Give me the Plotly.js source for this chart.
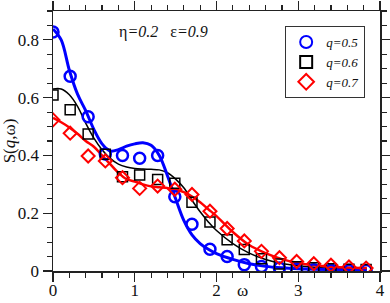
<!DOCTYPE html>
<html>
<head>
<meta charset="utf-8">
<script src="https://cdn.plot.ly/plotly-3.0.1.min.js"></script>
<style>html,body{margin:0;padding:0;background:#fff;}#chart{width:390px;height:303px;}</style>
</head>
<body>
<div id="chart"></div>
<script>
// Data points (simulation)
const omega = [0, 0.21, 0.43, 0.64, 0.85, 1.06, 1.28, 1.49, 1.70, 1.92, 2.13, 2.34, 2.55, 2.77, 2.98, 3.19, 3.40, 3.62, 3.83];
const sQ05 = [0.827, 0.674, 0.534, 0.405, 0.400, 0.390, 0.400, 0.257, 0.162, 0.075, 0.050, 0.022, 0.016, 0.010, 0.006, 0.004, 0.003, 0.002, 0.002];
const sQ06 = [0.609, 0.558, 0.474, 0.404, 0.326, 0.332, 0.317, 0.304, 0.238, 0.170, 0.108, 0.074, 0.042, 0.024, 0.015, 0.011, 0.008, 0.006, 0.005];
const sQ07 = [0.523, 0.477, 0.398, 0.381, 0.323, 0.286, 0.294, 0.283, 0.265, 0.207, 0.147, 0.104, 0.068, 0.046, 0.033, 0.025, 0.020, 0.014, 0.010];

// Theory curves
const fitOmega = [0, 0.1, 0.2, 0.3, 0.4, 0.5, 0.6, 0.7, 0.8, 0.9, 1.0, 1.1, 1.2, 1.3, 1.4, 1.5, 1.6, 1.7, 1.8, 1.9, 2.0, 2.2, 2.4, 2.6, 2.8, 3.0, 3.2, 3.4, 3.6, 3.84];
const fitQ05 = [0.838, 0.800, 0.695, 0.612, 0.555, 0.490, 0.440, 0.415, 0.420, 0.432, 0.440, 0.444, 0.435, 0.400, 0.330, 0.250, 0.175, 0.125, 0.095, 0.075, 0.060, 0.040, 0.025, 0.016, 0.011, 0.008, 0.006, 0.005, 0.004, 0.003];
const fitQ06 = [0.630, 0.630, 0.610, 0.570, 0.512, 0.460, 0.420, 0.390, 0.370, 0.360, 0.355, 0.353, 0.352, 0.350, 0.340, 0.318, 0.288, 0.245, 0.205, 0.170, 0.140, 0.095, 0.062, 0.040, 0.026, 0.018, 0.013, 0.010, 0.008, 0.007];
const fitQ07 = [0.530, 0.515, 0.497, 0.475, 0.450, 0.430, 0.400, 0.370, 0.340, 0.318, 0.310, 0.300, 0.293, 0.290, 0.287, 0.282, 0.273, 0.258, 0.238, 0.214, 0.190, 0.135, 0.090, 0.062, 0.041, 0.028, 0.020, 0.015, 0.012, 0.010];

const seriesNames = ['<i>q=0.5</i>', '<i>q=0.6</i>', '<i>q=0.7</i>'];
const xTicks = [0, 1, 2, 3, 4];
const yTicks = [0, 0.2, 0.4, 0.6, 0.8];

const blue = '#0000ff', black = '#000000', red = '#ff0000';
const serif = 'Liberation Serif';

const traces = [
  {x: fitOmega, y: fitQ06, mode: 'lines', line: {color: black, width: 1.5, shape: 'spline', smoothing: 1}, showlegend: false, hoverinfo: 'skip'},
  {x: fitOmega, y: fitQ05, mode: 'lines', line: {color: blue, width: 3, shape: 'spline', smoothing: 1}, showlegend: false, hoverinfo: 'skip'},
  {x: fitOmega, y: fitQ07, mode: 'lines', line: {color: red, width: 2.5, shape: 'spline', smoothing: 1}, showlegend: false, hoverinfo: 'skip'},
  {x: omega, y: sQ05, name: seriesNames[0], mode: 'markers', marker: {symbol: 'circle-open', size: 11, color: blue, line: {width: 2.5, color: blue}}},
  {x: omega, y: sQ06, name: seriesNames[1], mode: 'markers', marker: {symbol: 'square-open', size: 10, color: black, line: {width: 1.5, color: black}}},
  {x: omega, y: sQ07, name: seriesNames[2], mode: 'markers', marker: {symbol: 'diamond-open', size: 10, color: red, line: {width: 2, color: red}}}
];

const axisCommon = {
  showgrid: false, zeroline: false, showline: true, linecolor: '#222', linewidth: 1.5,
  mirror: 'ticks', ticks: 'outside', ticklen: 9, tickwidth: 1.2, tickcolor: '#222',
  tickfont: {family: serif, size: 17, color: '#111'}
};

const layout = {
  width: 390, height: 303,
  margin: {l: 53, r: 10, t: 11, b: 32},
  paper_bgcolor: '#fff', plot_bgcolor: '#fff',
  font: {family: serif, color: '#111'},
  xaxis: Object.assign({}, axisCommon, {
    range: [0, 4], tickvals: xTicks, ticktext: xTicks.map(String), ticklabelstandoff: -6,
    minor: {dtick: 0.2, ticks: 'outside', ticklen: 5, tickwidth: 1.2, tickcolor: '#222'}
  }),
  yaxis: Object.assign({}, axisCommon, {
    range: [0, 0.9], tickvals: yTicks, ticktext: yTicks.map(String),
    minor: {dtick: 0.05, ticks: 'outside', ticklen: 5, tickwidth: 1.2, tickcolor: '#222'},
    title: {text: 'S(<i>q</i>,ω)', font: {family: serif, size: 17, color: '#111'}, standoff: 4}
  }),
  legend: {
    x: 0.71, y: 0.942, xanchor: 'left', yanchor: 'top',
    bgcolor: '#fff', bordercolor: '#333', borderwidth: 1,
    font: {family: serif, size: 13, color: '#111'},
    tracegroupgap: 0, itemwidth: 30, itemsizing: 'constant'
  },
  annotations: [
    {xref: 'paper', yref: 'paper', x: 0.195, y: 0.92, xanchor: 'left', yanchor: 'middle', showarrow: false,
     text: 'η<i>=0.2</i>   ε<i>=0.9</i>', font: {family: serif, size: 16, color: '#111'}},
    {xref: 'paper', yref: 'paper', x: 0.58, y: -0.121, xanchor: 'center', yanchor: 'bottom', showarrow: false,
     text: 'ω', font: {family: serif, size: 17, color: '#111'}}
  ]
};

Plotly.newPlot('chart', traces, layout, {staticPlot: true, displayModeBar: false});
</script>
</body>
</html>
